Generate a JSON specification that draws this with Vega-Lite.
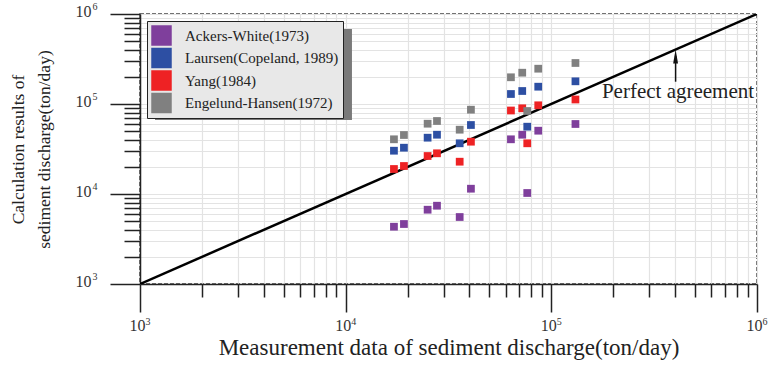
{
  "$schema": "https://vega.github.io/schema/vega-lite/v6.json",
  "width": 617,
  "height": 270,
  "autosize": "none",
  "padding": {"left": 140, "top": 14, "right": 14, "bottom": 82},
  "background": "white",
  "config": {
    "font": "Liberation Serif",
    "view": {"stroke": "#444", "strokeWidth": 1.5, "strokeDash": [4, 2]}
  },
  "resolve": {"axis": {"x": "independent", "y": "independent"}},
  "datasets": {
    "pts": [
      {"x": 17170, "y": 40530, "model": "Engelund-Hansen(1972)"},
      {"x": 17170, "y": 30270, "model": "Laursen(Copeland, 1989)"},
      {"x": 17170, "y": 18960, "model": "Yang(1984)"},
      {"x": 17170, "y": 4330, "model": "Ackers-White(1973)"},
      {"x": 19200, "y": 45240, "model": "Engelund-Hansen(1972)"},
      {"x": 19200, "y": 32690, "model": "Laursen(Copeland, 1989)"},
      {"x": 19200, "y": 20470, "model": "Yang(1984)"},
      {"x": 19200, "y": 4640, "model": "Ackers-White(1973)"},
      {"x": 25030, "y": 60400, "model": "Engelund-Hansen(1972)"},
      {"x": 25030, "y": 42230, "model": "Laursen(Copeland, 1989)"},
      {"x": 25030, "y": 26430, "model": "Yang(1984)"},
      {"x": 25030, "y": 6690, "model": "Ackers-White(1973)"},
      {"x": 27800, "y": 64730, "model": "Engelund-Hansen(1972)"},
      {"x": 27800, "y": 45580, "model": "Laursen(Copeland, 1989)"},
      {"x": 27800, "y": 28330, "model": "Yang(1984)"},
      {"x": 27800, "y": 7410, "model": "Ackers-White(1973)"},
      {"x": 35840, "y": 51810, "model": "Engelund-Hansen(1972)"},
      {"x": 35840, "y": 36590, "model": "Laursen(Copeland, 1989)"},
      {"x": 35840, "y": 22850, "model": "Yang(1984)"},
      {"x": 35840, "y": 5550, "model": "Ackers-White(1973)"},
      {"x": 40650, "y": 86450, "model": "Engelund-Hansen(1972)"},
      {"x": 40650, "y": 58430, "model": "Laursen(Copeland, 1989)"},
      {"x": 40650, "y": 38120, "model": "Yang(1984)"},
      {"x": 40650, "y": 11450, "model": "Ackers-White(1973)"},
      {"x": 63620, "y": 198100, "model": "Engelund-Hansen(1972)"},
      {"x": 63620, "y": 129150, "model": "Laursen(Copeland, 1989)"},
      {"x": 63620, "y": 84680, "model": "Yang(1984)"},
      {"x": 63620, "y": 40530, "model": "Ackers-White(1973)"},
      {"x": 72200, "y": 222700, "model": "Engelund-Hansen(1972)"},
      {"x": 72200, "y": 139450, "model": "Laursen(Copeland, 1989)"},
      {"x": 72200, "y": 89600, "model": "Yang(1984)"},
      {"x": 72200, "y": 45580, "model": "Ackers-White(1973)"},
      {"x": 76360, "y": 83600, "model": "Engelund-Hansen(1972)"},
      {"x": 76360, "y": 55960, "model": "Laursen(Copeland, 1989)"},
      {"x": 76360, "y": 36590, "model": "Yang(1984)"},
      {"x": 76360, "y": 10260, "model": "Ackers-White(1973)"},
      {"x": 86360, "y": 246700, "model": "Engelund-Hansen(1972)"},
      {"x": 86360, "y": 155700, "model": "Laursen(Copeland, 1989)"},
      {"x": 86360, "y": 96730, "model": "Yang(1984)"},
      {"x": 86360, "y": 50500, "model": "Ackers-White(1973)"},
      {"x": 131000, "y": 285500, "model": "Engelund-Hansen(1972)"},
      {"x": 131000, "y": 178700, "model": "Laursen(Copeland, 1989)"},
      {"x": 131000, "y": 112200, "model": "Yang(1984)"},
      {"x": 131000, "y": 59950, "model": "Ackers-White(1973)"}
    ]
  },
  "layer": [
    {
      "data": {"values": [{"x": 1000, "y": 1000}, {"x": 1000000, "y": 1000000}]},
      "mark": {"type": "line", "color": "black", "strokeWidth": 2.5, "clip": true},
      "encoding": {
        "x": {
          "field": "x", "type": "quantitative",
          "scale": {"type": "log", "domain": [1000, 1000000], "nice": false},
          "axis": {
            "orient": "bottom",
            "title": "Measurement data of sediment discharge(ton/day)",
            "titleFont": "Liberation Serif", "titleFontSize": 23, "titleFontWeight": "normal", "titleColor": "#222",
            "titlePadding": 3,
            "values": [1000,2000,3000,4000,5000,6000,7000,8000,9000,10000,20000,30000,40000,50000,60000,70000,80000,90000,100000,200000,300000,400000,500000,600000,700000,800000,900000,1000000],
            "labelExpr": "datum.value==1000||datum.value==10000||datum.value==100000||datum.value==1000000?'10':''",
            "labelFont": "Liberation Serif", "labelFontSize": 16, "labelColor": "#333", "labelPadding": 5,
            "labelOffset": -3, "labelOverlap": false, "labelFlush": false,
            "tickSize": {"condition": {"test": "datum.value==1000||datum.value==10000||datum.value==100000||datum.value==1000000", "value": 28}, "value": 13},
            "tickColor": "#222", "tickWidth": 1.5,
            "domainColor": "#222", "domainWidth": 1.5,
            "grid": true, "gridColor": "#e3e3e3", "gridWidth": 1.2
          }
        },
        "y": {
          "field": "y", "type": "quantitative",
          "scale": {"type": "log", "domain": [1000, 1000000], "nice": false},
          "axis": {
            "orient": "left",
            "title": ["Calculation results of", "sediment discharge(ton/day)"],
            "titleFont": "Liberation Serif", "titleFontSize": 17.5, "titleFontWeight": "normal", "titleColor": "#222",
            "titlePadding": 22, "titleLineHeight": 26,
            "values": [1000,2000,3000,4000,5000,6000,7000,8000,9000,10000,20000,30000,40000,50000,60000,70000,80000,90000,100000,200000,300000,400000,500000,600000,700000,800000,900000,1000000],
            "labelExpr": "datum.value==1000||datum.value==10000||datum.value==100000||datum.value==1000000?'10':''",
            "labelFont": "Liberation Serif", "labelFontSize": 16, "labelColor": "#333", "labelPadding": 19,
            "labelOffset": -3, "labelOverlap": false, "labelFlush": false,
            "tickSize": {"condition": {"test": "datum.value==1000||datum.value==10000||datum.value==100000||datum.value==1000000", "value": 30}, "value": 16},
            "tickColor": "#222", "tickWidth": 1.5,
            "domainColor": "#222", "domainWidth": 1.5,
            "grid": true, "gridColor": "#e3e3e3", "gridWidth": 1.2
          }
        }
      }
    },
    {
      "data": {"values": [{"x": 1183, "x2": 10730, "y": 681300, "y2": 66400}]},
      "mark": {"type": "rect", "color": "#7a7a7a"},
      "encoding": {
        "x": {"field": "x", "type": "quantitative", "axis": null},
        "x2": {"field": "x2"},
        "y": {"field": "y", "type": "quantitative", "axis": null},
        "y2": {"field": "y2"}
      }
    },
    {
      "data": {"name": "pts"},
      "mark": {"type": "point", "shape": "square", "filled": true, "size": 60, "opacity": 1},
      "encoding": {
        "x": {"field": "x", "type": "quantitative", "axis": null},
        "y": {"field": "y", "type": "quantitative", "axis": null},
        "color": {
          "field": "model", "type": "nominal",
          "scale": {
            "domain": ["Ackers-White(1973)", "Laursen(Copeland, 1989)", "Yang(1984)", "Engelund-Hansen(1972)"],
            "range": ["#7f3f9c", "#2d4fa3", "#ee2224", "#808080"]
          },
          "legend": {
            "title": null, "orient": "top-left", "offset": 7,
            "fillColor": "#e8e8e8", "strokeColor": "#222",
            "padding": 4, "symbolType": "square", "symbolSize": 420, "symbolStrokeWidth": 0,
            "symbolOpacity": 1,
            "labelFont": "Liberation Serif", "labelFontSize": 15, "labelColor": "#222",
            "rowPadding": 1.5, "labelOffset": 13
          }
        }
      }
    },
    {
      "data": {"values": [{"x": 176200, "y": 116600, "label": "Perfect agreement"}]},
      "mark": {"type": "text", "align": "left", "baseline": "alphabetic", "font": "Liberation Serif", "fontSize": 21, "color": "#222"},
      "encoding": {
        "x": {
          "field": "x", "type": "quantitative",
          "axis": {
            "orient": "bottom", "title": null, "grid": false, "domain": false,
            "ticks": true, "tickOpacity": 0, "tickSize": 28,
            "values": [1000, 10000, 100000, 1000000],
            "labelExpr": "datum.value==1000?'3':datum.value==10000?'4':datum.value==100000?'5':'6'",
            "labelFont": "Liberation Serif", "labelFontSize": 10, "labelColor": "#333",
            "labelAlign": "left", "labelOffset": 5, "labelPadding": 4, "labelOverlap": false, "labelFlush": false
          }
        },
        "y": {
          "field": "y", "type": "quantitative",
          "axis": {
            "orient": "left", "title": null, "grid": false, "domain": false,
            "ticks": true, "tickOpacity": 0, "tickSize": 30,
            "values": [1000, 10000, 100000, 1000000],
            "labelExpr": "datum.value==1000?'3':datum.value==10000?'4':datum.value==100000?'5':'6'",
            "labelFont": "Liberation Serif", "labelFontSize": 10, "labelColor": "#333",
            "labelAlign": "left", "labelBaseline": "middle", "labelOffset": -8, "labelPadding": 18, "labelOverlap": false, "labelFlush": false
          }
        },
        "text": {"field": "label"}
      }
    },
    {
      "data": {"values": [{"x": 402000, "y": 176900, "y2": 340000}]},
      "mark": {"type": "rule", "color": "#111", "strokeWidth": 1.5},
      "encoding": {
        "x": {"field": "x", "type": "quantitative", "axis": null},
        "y": {"field": "y", "type": "quantitative", "axis": null},
        "y2": {"field": "y2"}
      }
    },
    {
      "data": {"values": [{"x": 402000, "y": 337200}]},
      "mark": {"type": "point", "shape": "M0,-1L0.35,1L-0.35,1Z", "filled": true, "color": "#111", "size": 196, "opacity": 1},
      "encoding": {
        "x": {"field": "x", "type": "quantitative", "axis": null},
        "y": {"field": "y", "type": "quantitative", "axis": null}
      }
    }
  ]
}
